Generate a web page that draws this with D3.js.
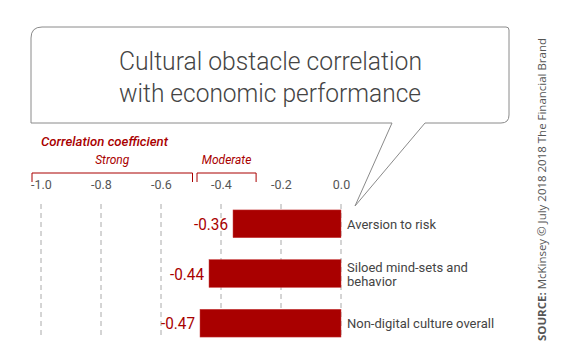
<!DOCTYPE html>
<html><head><meta charset="utf-8">
<script src="https://cdn.jsdelivr.net/npm/d3@7/dist/d3.min.js"></script>
<style>
html,body{margin:0;padding:0;background:#fff;}
svg{display:block;font-family:Roboto,"Open Sans",sans-serif;}
</style></head>
<body><svg id="c" width="565" height="358"></svg>
<script>
const categories = ["Aversion to risk", "Siloed mind-sets and|behavior", "Non-digital culture overall"];
const values = [-0.36, -0.44, -0.47];
const valueLabels = ["-0.36", "-0.44", "-0.47"];
const tickValues = [-1.0, -0.8, -0.6, -0.4, -0.2, 0.0];
const tickLabels = ["-1.0", "-0.8", "-0.6", "-0.4", "-0.2", "0.0"];
const titleLines = ["Cultural obstacle correlation", "with economic performance"];
const bands = [{name: "Strong", from: -1.03, to: -0.495}, {name: "Moderate", from: -0.48, to: -0.283}];

const red = "#a90000";
const svg = d3.select("#c");

const x = d3.scaleLinear().domain([-1, 0]).range([41, 341]);
const y = d3.scaleBand().domain(categories).range([199, 348]).paddingInner(0.44).paddingOuter(0.22);

// callout box
const L = 31, T = 27, R = 509, B = 123, rTL = 11, rBR = 8, rTR = 3;
const tipX = 355, tipY = 206, baseL = 392, baseR = 425;
const p = d3.path();
p.moveTo(L, B);
p.lineTo(L, T + rTL);
p.quadraticCurveTo(L, T, L + rTL, T);
p.lineTo(R - rTR, T);
p.quadraticCurveTo(R, T, R, T + rTR);
p.lineTo(R, B - rBR);
p.quadraticCurveTo(R, B, R - rBR, B);
p.lineTo(baseR, B);
p.lineTo(tipX, tipY);
p.lineTo(baseL, B);
p.closePath();
svg.append("path").attr("d", p.toString()).attr("fill", "#fff").attr("stroke", "#8a8a8a").attr("stroke-width", 1);

const title = svg.append("g");
titleLines.forEach((t, i) => {
  title.append("text").attr("x", 119).attr("y", 70 + i * 32)
    .attr("font-size", 25).attr("font-weight", 300).attr("fill", "#444")
    .attr("textLength", i === 0 ? 303 : 302).attr("lengthAdjust", "spacingAndGlyphs")
    .text(t);
});

// axis label & bands
svg.append("text").attr("x", 41).attr("y", 146).attr("font-size", 13).attr("font-style", "italic")
  .attr("font-weight", 500).attr("fill", red).attr("textLength", 127).attr("lengthAdjust", "spacingAndGlyphs")
  .text("Correlation coefficient");
bands.forEach(b => {
  const x0 = x(b.from), x1 = x(b.to);
  svg.append("path").attr("d", `M${x0},182V173H${x1}V182`).attr("fill", "none").attr("stroke", red).attr("stroke-width", 1);
  svg.append("text").attr("x", (x0 + x1) / 2).attr("y", 164).attr("text-anchor", "middle")
    .attr("font-size", 12).attr("font-style", "italic").attr("fill", red).text(b.name);
});

// gridlines
svg.append("g").selectAll("line").data(tickValues).join("line")
  .attr("x1", d => x(d)).attr("x2", d => x(d)).attr("y1", 204).attr("y2", 338)
  .attr("stroke", "#aaa").attr("stroke-width", 1).attr("stroke-dasharray", "5,4");

// axis tick labels
const axis = d3.axisTop(x).tickValues(tickValues).tickFormat((d, i) => tickLabels[i]).tickSize(0).tickPadding(0);
const ag = svg.append("g").attr("transform", "translate(0,189)").call(axis);
ag.select(".domain").remove();
ag.selectAll("text").attr("font-size", 12.5).attr("fill", "#555").attr("font-family", "Roboto, sans-serif").attr("dy", 0);

// bars
svg.append("g").selectAll("rect").data(values).join("rect")
  .attr("x", d => x(d)).attr("y", (d, i) => y(categories[i]))
  .attr("width", d => x(0) - x(d)).attr("height", y.bandwidth())
  .attr("fill", red).attr("stroke", "#c44").attr("stroke-width", 0.5);

// value labels
svg.append("g").selectAll("text").data(values).join("text")
  .attr("x", d => x(d) - 5).attr("y", (d, i) => y(categories[i]) + y.bandwidth() / 2 + 6)
  .attr("text-anchor", "end").attr("font-size", 16).attr("font-weight", 400).attr("fill", red)
  .attr("textLength", 34).attr("lengthAdjust", "spacingAndGlyphs")
  .text((d, i) => valueLabels[i]);

// category labels
categories.forEach((c, i) => {
  const lines = c.split("|");
  const cy = y(c) + y.bandwidth() / 2;
  const t = svg.append("text").attr("x", 347).attr("font-size", 13).attr("fill", "#444");
  lines.forEach((ln, j) => {
    t.append("tspan").attr("x", 347).attr("y", cy + 5 - (lines.length - 1) * 7 + j * 14.5).text(ln);
  });
});

// source
const s = svg.append("text").attr("transform", "translate(546,341) rotate(-90)")
  .attr("font-size", 11).attr("fill", "#555").attr("font-family", "'Open Sans', sans-serif")
  .attr("textLength", 303).attr("lengthAdjust", "spacingAndGlyphs");
s.append("tspan").attr("font-weight", 700).text("SOURCE:");
s.append("tspan").text(" McKinsey \u00A9 July 2018 2018 The Financial Brand");
</script></body></html>
